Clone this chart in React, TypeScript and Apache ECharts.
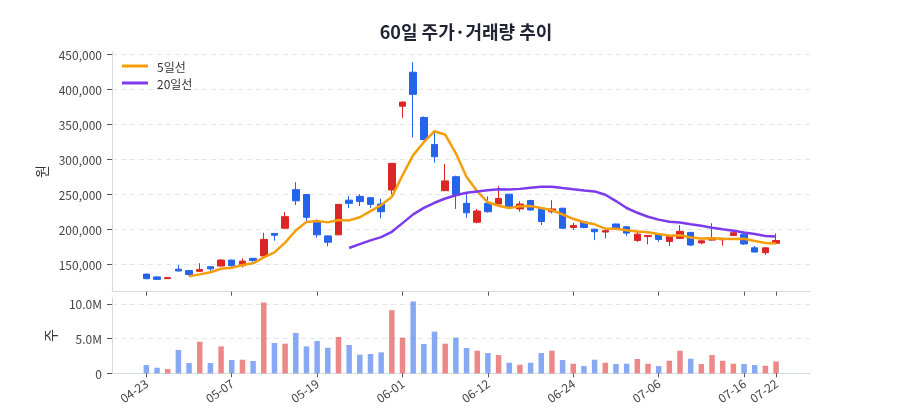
import React, { useEffect, useRef } from "react";
import * as echarts from "echarts";

const dates = [
  "04-23", "04-24", "04-27", "04-28", "04-29", "04-30", "05-04", "05-06", "05-07", "05-08",
  "05-11", "05-12", "05-13", "05-14", "05-15", "05-18", "05-19", "05-20", "05-21", "05-22",
  "05-26", "05-27", "05-28", "05-29", "06-01", "06-02", "06-04", "06-05", "06-08", "06-09",
  "06-10", "06-11", "06-12", "06-15", "06-16", "06-17", "06-18", "06-19", "06-22", "06-23",
  "06-24", "06-25", "06-26", "06-29", "06-30", "07-01", "07-02", "07-03", "07-06", "07-07",
  "07-08", "07-09", "07-10", "07-13", "07-14", "07-15", "07-16", "07-20", "07-21", "07-22",
];

const opens = [
  136000, 132000, 129500, 143000, 141000, 140000, 146500, 147500, 156000, 148000,
  158500, 162000, 194000, 201500, 256500, 249500, 210000, 190500, 192000, 241500,
  247000, 245000, 236000, 256000, 375500, 424000, 359500, 321000, 255000, 275000,
  237000, 210000, 237000, 236000, 250000, 229000, 241000, 230000, 225000, 230000,
  202500, 210500, 200000, 196000, 207500, 203500, 184000, 189500, 193000, 182500,
  187000, 195500, 180500, 184500, 185000, 191000, 193000, 173500, 166500, 180000,
];
const closes = [
  129500, 128500, 131000, 140500, 135500, 142500, 143500, 156000, 148000, 154500,
  155500, 185500, 191500, 218000, 240500, 217000, 192000, 181500, 235500, 237000,
  239500, 235500, 225000, 294000, 381500, 392500, 328000, 303500, 269000, 249000,
  223500, 226000, 225000, 244000, 232500, 236000, 227500, 211000, 229000, 201500,
  205500, 202500, 196500, 198000, 201500, 194500, 193000, 191000, 185500, 190500,
  197000, 177500, 183500, 188000, 187000, 195000, 179000, 167500, 173500, 184000,
];
const lows = [
  128500, 127500, 129000, 140000, 134000, 139500, 140500, 147000, 145000, 145500,
  153500, 161000, 183500, 201000, 234500, 212000, 188000, 175500, 191500, 230000,
  233000, 230500, 215500, 250000, 359000, 331000, 327000, 295000, 254500, 229000,
  216500, 208500, 223500, 235500, 231500, 225000, 226500, 206000, 222500, 201000,
  199000, 201500, 184500, 187000, 200500, 190500, 182000, 178500, 182000, 176000,
  186500, 176000, 178500, 183500, 176500, 190500, 177500, 167000, 163500, 179500,
];
const highs = [
  136500, 133000, 131800, 149000, 142000, 151500, 147000, 157500, 156500, 158500,
  159000, 195000, 194500, 224500, 267000, 250000, 214000, 191000, 236000, 247500,
  250000, 245500, 243500, 294500, 382000, 438500, 361000, 339000, 293000, 276500,
  251000, 229000, 247000, 261500, 250500, 240000, 242000, 231000, 241500, 230500,
  209000, 211000, 201000, 198500, 208000, 204000, 196500, 191500, 193500, 192000,
  206000, 196000, 186500, 208500, 187500, 199000, 194000, 176000, 174000, 194000,
];

const volumes = [
  1190000, 800000, 610000, 3360000, 1480000, 4560000, 1480000, 3880000, 1910000, 1960000,
  1770000, 10200000, 4370000, 4270000, 5820000, 3880000, 4660000, 3690000, 5240000, 4080000,
  2680000, 2780000, 3020000, 9100000, 5140000, 10360000, 4230000, 6010000, 4270000, 5140000,
  3650000, 3260000, 2920000, 2630000, 1520000, 1230000, 1520000, 2920000, 3260000, 1910000,
  1380000, 1040000, 1960000, 1520000, 1330000, 1380000, 2060000, 1380000, 1040000, 1810000,
  3260000, 2100000, 1330000, 2630000, 1810000, 1380000, 1330000, 1190000, 1090000, 1710000,
];

// 5일선 starts at index 4, 20일선 at index 19
const ma5Start = 4;
const ma5 = [
  133000, 135600, 138600, 143600, 145100, 148900, 151500, 159900, 167000, 181000,
  198200, 210500, 211800, 209800, 213300, 212600, 217100, 225800, 234500, 246200,
  277000, 305700, 324200, 339900, 334900, 308400, 274600, 254200, 238500, 233500,
  230200, 232700, 233000, 230200, 227200, 221000, 214900, 209900, 207000, 200800,
  200800, 198600, 196700, 195600, 193100, 190900, 191400, 188300, 186800, 187300,
  186600, 186200, 186500, 183300, 180400, 179800,
];
const ma20Start = 19;
const ma20 = [
  173200, 178700, 184100, 188800, 196400, 208700, 221200, 230400, 237800, 243900,
  248600, 252000, 254000, 255700, 257000, 256600, 257600, 259300, 260800, 260500,
  258700, 257000, 255400, 254000, 249200, 240200, 230300, 223500, 217900, 213700,
  210800, 209500, 207100, 205000, 202200, 199900, 197900, 195500, 193300, 190500,
  189700,
];

const xTickIdx = [0, 8, 16, 24, 32, 40, 48, 56, 59];

const UP = "#dc2626";
const DOWN = "#2563eb";
const UP_VOL = "rgba(220,38,38,0.55)";
const DOWN_VOL = "rgba(37,99,235,0.55)";
const MA5_COLOR = "#f59e0b";
const MA20_COLOR = "#7c3aed";
const FONT = "'Noto Sans CJK KR', 'Noto Sans', sans-serif";
const LINE_ICON = "path://M0,0H26V3H0Z";

export default function App() {
  const ref = useRef<HTMLDivElement>(null);

  useEffect(() => {
    document.body.style.margin = "0";
    if (!ref.current) return;
    const chart = echarts.init(ref.current, undefined, { renderer: "svg" });

    const candleData = dates.map((_, i) => [i, opens[i], closes[i], lows[i], highs[i]]);
    const volData = volumes.map((v, i) => ({
      value: [i, v],
      itemStyle: { color: closes[i] >= opens[i] ? UP_VOL : DOWN_VOL },
    }));
    const ma5Data = ma5.map((v, k) => [k + ma5Start, v]);
    const ma20Data = ma20.map((v, k) => [k + ma20Start, v]);

    const axisLineStyle = { color: "#d5d9e0", width: 1 };
    const tickStyle = { color: "#555", width: 1 };

    const xCommon = {
      type: "value",
      min: -3.22,
      max: 62.18,
      splitLine: { show: false },
      axisLine: { show: true, onZero: false, lineStyle: axisLineStyle },
      axisTick: { show: true, length: 4, lineStyle: tickStyle, customValues: xTickIdx },
    };

    const ySplit = {
      show: true,
      showMinLine: false,
      showMaxLine: false,
      lineStyle: { color: "#e3e6ea", type: [5, 4] },
    };

    chart.setOption({
      animation: false,
      textStyle: { fontFamily: FONT },
      title: {
        text: "60일 주가·거래량 추이",
        left: 461,
        top: 17,
        textAlign: "center",
        textStyle: { fontSize: 18, fontWeight: "bold", color: "#1f2333", fontFamily: FONT },
      },
      legend: {
        orient: "vertical",
        left: 117,
        top: 55,
        padding: 5,
        itemWidth: 26,
        itemHeight: 14,
        itemGap: 5,
        data: [
          { name: "5일선", icon: LINE_ICON, itemStyle: { color: MA5_COLOR } },
          { name: "20일선", icon: LINE_ICON, itemStyle: { color: MA20_COLOR } },
        ],
        textStyle: { fontSize: 12, color: "#333", padding: [0, 0, 0, 4], fontFamily: FONT },
      },
      grid: [
        { left: 112, right: 90, top: 51.5, height: 240.2 },
        { left: 112, right: 90, top: 297.7, height: 75.6 },
      ],
      xAxis: [
        {
          ...xCommon,
          gridIndex: 0,
          axisLabel: { show: false },
        },
        {
          ...xCommon,
          gridIndex: 1,
          axisLabel: {
            show: true,
            customValues: xTickIdx,
            rotate: 35,
            margin: 8,
            fontSize: 12,
            color: "#444",
            formatter: (v: number) => dates[Math.round(v)] ?? "",
          },
        },
      ],
      yAxis: [
        {
          type: "value",
          gridIndex: 0,
          min: 110900,
          max: 453600,
          name: "원",
          nameLocation: "middle",
          nameGap: 64,
          nameTextStyle: { fontSize: 14, color: "#333" },
          axisLine: { show: true, onZero: false, lineStyle: axisLineStyle },
          axisTick: { show: true, length: 5, lineStyle: tickStyle },
          axisLabel: {
            margin: 10,
            fontSize: 12,
            color: "#444",
            showMinLabel: false,
            showMaxLabel: false,
            formatter: (v: number) => v.toLocaleString("en-US"),
          },
          splitLine: ySplit,
        },
        {
          type: "value",
          gridIndex: 1,
          min: 0,
          max: 10900000,
          interval: 5000000,
          name: "주",
          nameLocation: "middle",
          nameGap: 55,
          nameTextStyle: { fontSize: 14, color: "#333" },
          axisLine: { show: true, onZero: false, lineStyle: axisLineStyle },
          axisTick: { show: true, length: 5, lineStyle: tickStyle },
          axisLabel: {
            margin: 10,
            fontSize: 12,
            color: "#444",
            showMaxLabel: false,
            formatter: (v: number) => (v === 0 ? "0" : (v / 1e6).toFixed(1) + "M"),
          },
          splitLine: ySplit,
        },
      ],
      series: [
        {
          type: "candlestick",
          name: "주가",
          xAxisIndex: 0,
          yAxisIndex: 0,
          barWidth: 7,
          data: candleData,
          itemStyle: {
            color: UP,
            color0: DOWN,
            borderColor: UP,
            borderColor0: DOWN,
            borderWidth: 1,
          },
        },
        {
          type: "line",
          name: "5일선",
          xAxisIndex: 0,
          yAxisIndex: 0,
          data: ma5Data,
          symbol: "none",
          showSymbol: false,
          lineStyle: { color: MA5_COLOR, width: 2.5 },
          itemStyle: { color: MA5_COLOR },
          z: 3,
        },
        {
          type: "line",
          name: "20일선",
          xAxisIndex: 0,
          yAxisIndex: 0,
          data: ma20Data,
          symbol: "none",
          showSymbol: false,
          lineStyle: { color: MA20_COLOR, width: 2.5 },
          itemStyle: { color: MA20_COLOR },
          z: 3,
        },
        {
          type: "bar",
          name: "거래량",
          xAxisIndex: 1,
          yAxisIndex: 1,
          barWidth: 5.5,
          data: volData,
        },
      ],
    });

    return () => chart.dispose();
  }, []);

  return (
    <div
      ref={ref}
      style={{ position: "fixed", left: 0, top: 0, width: 900, height: 420 }}
    />
  );
}
